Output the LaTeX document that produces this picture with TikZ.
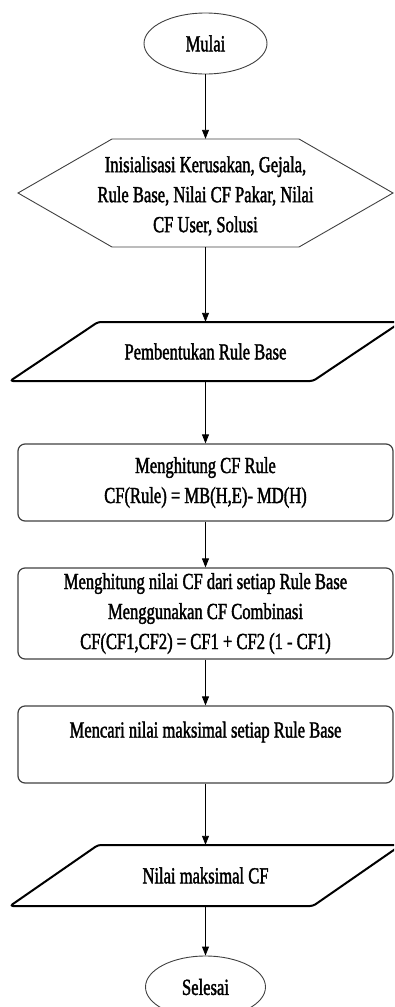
\documentclass[tikz,border=0pt]{standalone}
\usepackage{fontspec}
\setmainfont{Liberation Serif}[FakeStretch=0.72,FakeBold=1.6]
\usetikzlibrary{arrows.meta,shapes.geometric}
\begin{document}
\begin{tikzpicture}[x=1pt,y=-1pt,
  every node/.style={font=\fontsize{23}{30}\selectfont, text=black},
  termbox/.style={draw=black!75, line width=0.9pt, ellipse, inner sep=0pt},
  hexline/.style={draw=black!75, line width=0.9pt},
  ioline/.style={draw=black, line width=2pt, rounded corners=3pt, line join=round},
  procbox/.style={draw=black!75, line width=1.2pt, rectangle, rounded corners=7pt, minimum width=375pt, inner sep=0pt, align=center},
  ghost/.style={draw=none, rectangle, inner sep=0pt, align=center},
  flow/.style={draw=black, line width=0.9pt, -{Triangle[length=9pt,width=7pt]}}
]
\useasboundingbox (0,0) rectangle (394,1007);
\clip (0,0) rectangle (394,1007);

% Mulai
\node[termbox, minimum width=123pt, minimum height=61pt] (mulai) at (205.5,43.5) {Mulai};

% Hexagon
\draw[hexline] (18,193) -- (112,139) -- (299,139) -- (393,193) -- (299,247) -- (112,247) -- cycle;
\node[ghost, minimum width=375pt, minimum height=108pt] (init) at (205.5,193) {};
\node[ghost] (inittext) at (205.5,196) {Inisialisasi Kerusakan, Gejala,\\Rule Base, Nilai CF Pakar, Nilai\\CF User, Solusi};

% Parallelogram 1
\draw[ioline] (10,381) -- (98,322) -- (401,322) -- (313,381) -- cycle;
\node[ghost, minimum width=375pt, minimum height=59pt] (rule) at (205.5,351.5) {Pembentukan Rule Base};

% Rect 1
\node[procbox, minimum height=77pt] (cfrule) at (205.5,482.5) {Menghitung CF Rule\\CF(Rule) = MB(H,E)- MD(H)};

% Rect 2
\node[procbox, minimum height=91pt] (comb) at (205.5,613.5) {Menghitung nilai CF dari setiap Rule Base\\Menggunakan CF Combinasi\\CF(CF1,CF2) = CF1 + CF2 (1 - CF1)};

% Rect 3
\node[procbox, minimum height=77pt] (maks) at (205.5,744.5) {};
\node[ghost] (makstext) at (205.5,732) {Mencari nilai maksimal setiap Rule Base};

% Parallelogram 2
\draw[ioline] (10,906) -- (98,845) -- (401,845) -- (313,906) -- cycle;
\node[ghost, minimum width=375pt, minimum height=61pt] (nilai) at (205.5,875.5) {Nilai maksimal CF};

% Selesai
\node[termbox, minimum width=120pt, minimum height=62pt] (selesai) at (205.5,987) {Selesai};

% Connectors
\draw[flow] (mulai.south) -- (init.north);
\draw[flow] (init.south) -- (rule.north);
\draw[flow] (rule.south) -- (cfrule.north);
\draw[flow] (cfrule.south) -- (comb.north);
\draw[flow] (comb.south) -- (maks.north);
\draw[flow] (maks.south) -- (nilai.north);
\draw[flow] (nilai.south) -- (selesai.north);
\end{tikzpicture}
\end{document}
